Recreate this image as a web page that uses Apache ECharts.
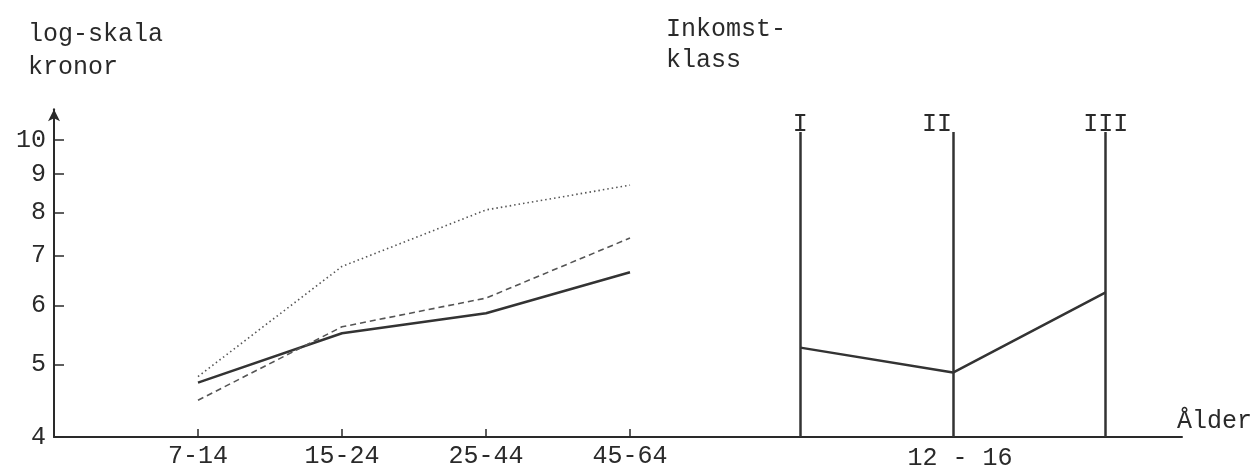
<!DOCTYPE html>
<html><head><meta charset="utf-8">
<script src="https://cdn.jsdelivr.net/npm/echarts@6/dist/echarts.min.js"></script>
<style>html,body{margin:0;padding:0;background:#fff}#c{width:1260px;height:469px}</style>
</head><body><div id="c"></div>
<script>
// ---- data ----
const ageGroups = ['7-14', '15-24', '25-44', '45-64'];
const solidValues = [4.73, 5.51, 5.86, 6.65];
const dashedValues = [4.48, 5.62, 6.14, 7.39];
const dottedValues = [4.82, 6.77, 8.06, 8.70];
const incomeClasses = ['I', 'II', 'III'];
const incomeValues = [5.27, 4.88, 6.25];
const yTickValues = [4, 5, 6, 7, 8, 9, 10];
const incomeAgeLabel = '12 - 16';
const yTitle = 'log-skala\nkronor';
const incomeTitle = 'Inkomst-\nklass';
const xTitle = 'Ålder';

// ---- layout / style ----
const FONT = 'Liberation Mono';
const INK = '#2a2a2a';
const FS = 25;
const yMin = 4, leftYMax = 11, rightYMax = 10.25;
const pxPerDecade = 746.3;
const gridBottom = 32;
const h1 = pxPerDecade * Math.log10(leftYMax / yMin);
const h2 = pxPerDecade * Math.log10(rightYMax / yMin);

const leftCats = [''].concat(ageGroups, [' ']);
const isReal = (i, v) => String(v).trim() !== '';
const titleStyle = {fontFamily: FONT, fontSize: FS, fontWeight: 'normal', color: INK};

const chart = echarts.init(document.getElementById('c'), null, {renderer: 'canvas'});
chart.setOption({
  animation: false,
  backgroundColor: '#fff',
  title: [
    {text: yTitle, left: 28, top: 18, padding: 0, textStyle: Object.assign({lineHeight: 33}, titleStyle)},
    {text: incomeTitle, left: 666, top: 14, padding: 0, textStyle: Object.assign({lineHeight: 31}, titleStyle)},
    {text: xTitle, left: 1177, top: 409, padding: 0, textStyle: titleStyle}
  ],
  grid: [
    {left: 54, width: 720, bottom: gridBottom, height: h1, outerBoundsMode: 'none'},
    {left: 724, width: 458, bottom: gridBottom, height: h2, outerBoundsMode: 'none'}
  ],
  xAxis: [
    {
      gridIndex: 0, type: 'category', data: leftCats, boundaryGap: false,
      axisLine: {lineStyle: {color: INK, width: 2}},
      axisTick: {inside: true, length: 8, interval: isReal, lineStyle: {color: INK, width: 1.5}},
      axisLabel: {interval: isReal, margin: 7, fontFamily: FONT, fontSize: FS, color: INK},
      splitLine: {show: false}
    },
    {
      gridIndex: 1, type: 'category', data: incomeClasses, boundaryGap: true,
      axisLine: {lineStyle: {color: INK, width: 2}},
      axisTick: {show: false}, axisLabel: {show: false}, splitLine: {show: false},
      name: incomeAgeLabel, nameLocation: 'middle', nameGap: 9,
      nameTextStyle: {fontFamily: FONT, fontSize: FS, color: INK, padding: [0, 0, 0, 14]}
    }
  ],
  yAxis: [
    {
      gridIndex: 0, type: 'log', logBase: 10, min: yMin, max: leftYMax,
      axisLine: {show: true, lineStyle: {color: INK, width: 2}, symbol: ['none', 'arrow'], symbolSize: [9, 12]},
      axisTick: {show: true, inside: true, length: 10, customValues: yTickValues, lineStyle: {color: INK, width: 1.5}},
      axisLabel: {customValues: yTickValues, margin: 8, fontFamily: FONT, fontSize: FS, color: INK},
      splitLine: {show: false}, minorTick: {show: false}
    },
    {
      gridIndex: 1, type: 'log', logBase: 10, min: yMin, max: rightYMax, show: false,
      splitLine: {show: false}
    }
  ],
  series: [
    {
      name: 'heldragen', type: 'line', xAxisIndex: 0, yAxisIndex: 0, symbol: 'none',
      data: ageGroups.map((c, i) => [c, solidValues[i]]),
      lineStyle: {color: '#333', width: 2.5}
    },
    {
      name: 'streckad', type: 'line', xAxisIndex: 0, yAxisIndex: 0, symbol: 'none',
      data: ageGroups.map((c, i) => [c, dashedValues[i]]),
      lineStyle: {color: '#555', width: 1.6, type: [6, 4]}
    },
    {
      name: 'prickad', type: 'line', xAxisIndex: 0, yAxisIndex: 0, symbol: 'none',
      data: ageGroups.map((c, i) => [c, dottedValues[i]]),
      lineStyle: {color: '#555', width: 1.6, type: [1.5, 3]}
    },
    {
      name: 'inkomstklass', type: 'line', xAxisIndex: 1, yAxisIndex: 1, symbol: 'none',
      data: incomeClasses.map((c, i) => [c, incomeValues[i]]),
      lineStyle: {color: '#333', width: 2.5},
      markLine: {
        silent: true, symbol: ['none', 'none'],
        lineStyle: {color: '#333', width: 2.5, type: 'solid'},
        label: {show: true, position: 'end', distance: -5, formatter: '{b}', fontFamily: FONT, fontSize: FS, color: INK},
        data: incomeClasses.map((c, i) => ({
          name: c, xAxis: c,
          label: i === 1 ? {offset: [-16, 0]} : {}
        }))
      }
    }
  ]
});
</script>
</body></html>
